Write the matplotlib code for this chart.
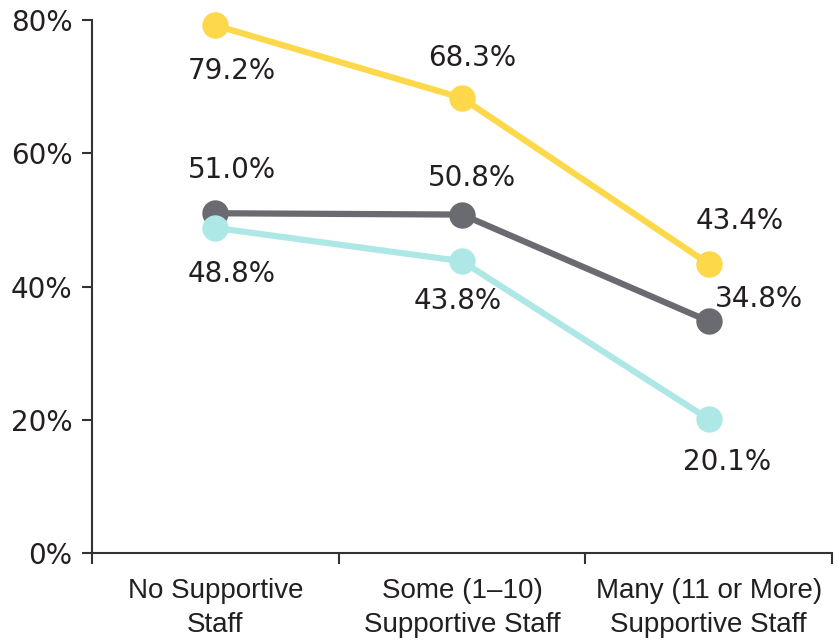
import matplotlib.pyplot as plt
from matplotlib.ticker import FuncFormatter

categories = ["No Supportive\nStaff", "Some (1\u201310)\nSupportive Staff", "Many (11 or More)\nSupportive Staff"]
yellow_vals = [79.2, 68.3, 43.4]
gray_vals = [51.0, 50.8, 34.8]
cyan_vals = [48.8, 43.8, 20.1]

YELLOW = "#fdd84a"
GRAY = "#696b70"
CYAN = "#aee8e6"
TEXT = "#231f20"

NUM_FONT = ["DejaVu Sans"]
CAT_FONT = ["Liberation Sans Narrow", "Liberation Sans", "DejaVu Sans"]

fig = plt.figure(figsize=(8.38, 6.40), dpi=100)
ax = fig.add_axes([0.1098, 0.1359, 0.8830, 0.8328])

x = [i + 0.5 for i in range(len(categories))]

# label offsets in points (dx, dy) per series/point
series = [
    (yellow_vals, YELLOW, [(12, -33), (7, 29), (22, 31)]),
    (gray_vals, GRAY, [(12, 31), (7, 26), (36, 16)]),
    (cyan_vals, CYAN, [(12, -33), (-3, -29), (13, -31)]),
]

for vals, col, offs in series:
    ax.plot(x, vals, color=col, lw=4.5, marker="o", ms=18,
            solid_capstyle="round", clip_on=False, zorder=3)
    for xi, v, (dx, dy) in zip(x, vals, offs):
        ax.annotate(f"{v:.1f}%", (xi, v), xytext=(dx, dy),
                    textcoords="offset points", ha="center", va="center",
                    fontsize=20, color=TEXT, family=NUM_FONT)

ax.set_xlim(0, 3)
ax.set_ylim(0, 80)
ax.set_yticks([0, 20, 40, 60, 80])
ax.yaxis.set_major_formatter(FuncFormatter(lambda v, p: f"{v:.0f}%"))
ax.set_xticks([0, 1, 2, 3])
ax.set_xticklabels([])
ax.set_xticks(x, minor=True)
ax.set_xticklabels(categories, minor=True, fontsize=20, color=TEXT,
                   family=CAT_FONT, linespacing=1.4)
ax.tick_params(axis="x", which="minor", length=0, pad=18)
ax.tick_params(axis="x", which="major", length=8, width=1.5, color="#333333")
ax.tick_params(axis="y", length=7, width=1.5, color="#333333",
               labelsize=20, labelcolor=TEXT, pad=7)
for lbl in ax.get_yticklabels():
    lbl.set_family(NUM_FONT)

for s in ["top", "right"]:
    ax.spines[s].set_visible(False)
for s in ["left", "bottom"]:
    ax.spines[s].set_linewidth(1.5)
    ax.spines[s].set_color("#333333")

fig.savefig("out.png", dpi=100)
